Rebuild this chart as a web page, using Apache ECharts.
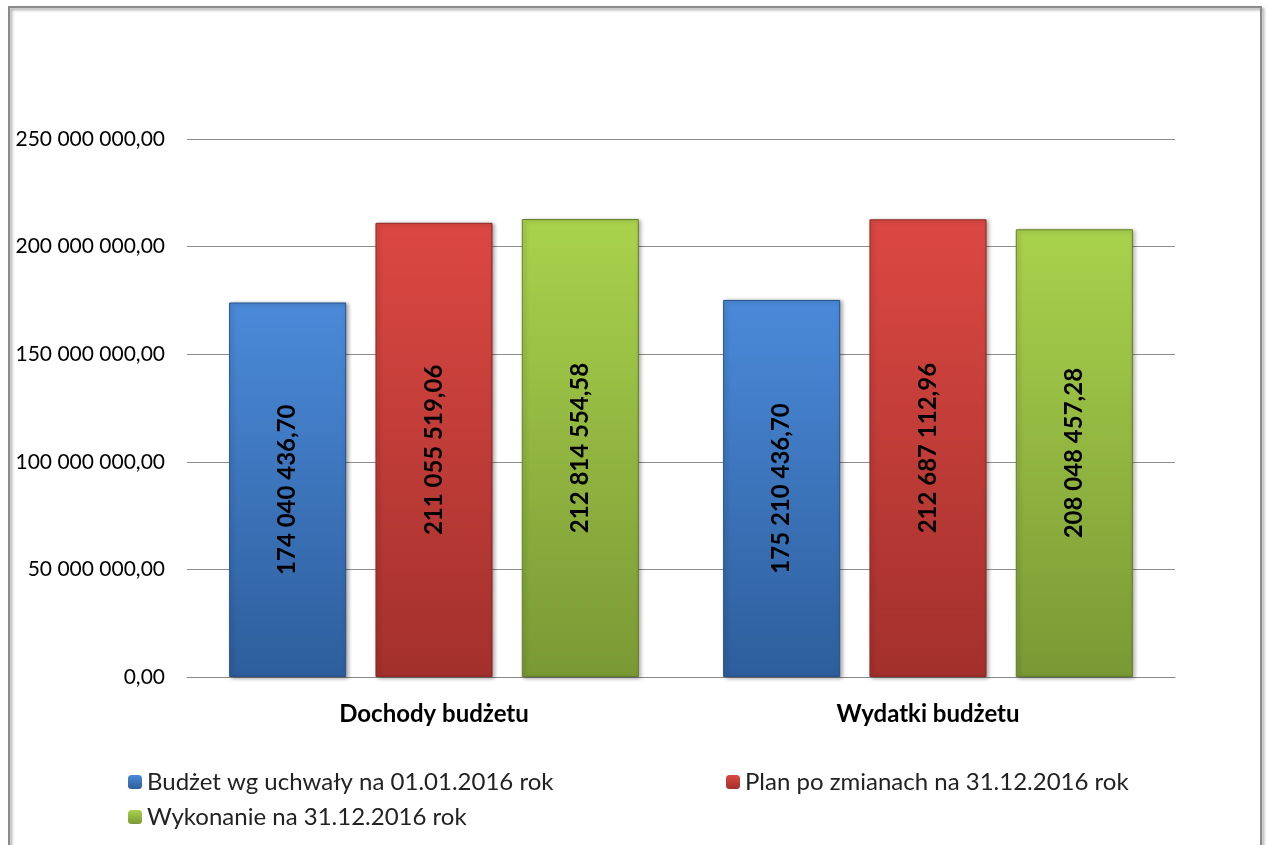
<!DOCTYPE html>
<html>
<head>
<meta charset="utf-8">
<script src="https://cdn.jsdelivr.net/npm/echarts@6/dist/echarts.min.js"></script>
<style>
  html, body { margin: 0; padding: 0; background: #fff; }
  #chart { width: 1267px; height: 845px; }
</style>
</head>
<body>
<div id="chart"></div>
<script>
// dane
var categories = ['Dochody budżetu', 'Wydatki budżetu'];
var seriesNames = [
  'Budżet wg uchwały na 01.01.2016 rok',
  'Plan po zmianach na 31.12.2016 rok',
  'Wykonanie na 31.12.2016 rok'
];
var budzet = [174040436.70, 175210436.70];
var plan = [211055519.06, 212687112.96];
var wykonanie = [212814554.58, 208048457.28];

// format: 174 040 436,70
function fmt (v) {
  var parts = v.toFixed(2).split('.');
  return parts[0].replace(/\B(?=(\d{3})+(?!\d))/g, ' ') + ',' + parts[1];
}

function grad (top, bottom) {
  return new echarts.graphic.LinearGradient(0, 0, 0, 1, [
    { offset: 0, color: top },
    { offset: 1, color: bottom }
  ]);
}

var font = 'Lato, "Open Sans", sans-serif';
var colors = [
  { top: '#4b8ad9', bottom: '#2d5e9c', border: '#26518a' },
  { top: '#dc4843', bottom: '#a3302c', border: '#8e2824' },
  { top: '#a9d24c', bottom: '#7a9935', border: '#65802a' }
];

function makeSeries (name, data, c) {
  return {
    name: name,
    type: 'bar',
    data: data,
    barWidth: '23.7%',
    barGap: '25%',
    itemStyle: {
      color: grad(c.top, c.bottom),
      borderColor: c.border,
      borderWidth: 1,
      shadowColor: 'rgba(0,0,0,0.35)',
      shadowBlur: 4,
      shadowOffsetX: 2,
      shadowOffsetY: 1
    },
    label: {
      show: true,
      position: 'inside',
      rotate: 90,
      formatter: function (p) { return fmt(p.value); },
      color: '#000',
      fontFamily: font,
      fontWeight: 'bold',
      fontSize: 24
    }
  };
}

var chart = echarts.init(document.getElementById('chart'));
chart.setOption({
  animation: false,
  color: [colors[0].top, colors[1].top, colors[2].top],
  graphic: [{
    type: 'rect',
    shape: { x: 9, y: 7, width: 1252, height: 860 },
    style: { fill: 'none', stroke: '#8a8a8a', lineWidth: 2, shadowColor: 'rgba(0,0,0,0.4)', shadowBlur: 3, shadowOffsetX: 2, shadowOffsetY: 2 },
    silent: true
  }],
  grid: { left: 187, right: 92, top: 139, bottom: 168 },
  legend: [{
    orient: 'vertical',
    left: 123,
    top: 765,
    itemGap: 11,
    itemWidth: 14,
    itemHeight: 14,
    itemStyle: { borderWidth: 0 },
    data: [seriesNames[0], seriesNames[2]],
    textStyle: { fontFamily: font, fontSize: 24, lineHeight: 24, color: '#222' }
  }, {
    orient: 'vertical',
    left: 721,
    top: 765,
    itemWidth: 14,
    itemHeight: 14,
    itemStyle: { borderWidth: 0 },
    data: [seriesNames[1]],
    textStyle: { fontFamily: font, fontSize: 24, lineHeight: 24, color: '#222' }
  }],
  xAxis: {
    type: 'category',
    data: categories,
    axisLine: { lineStyle: { color: '#888' } },
    axisTick: { show: false },
    axisLabel: { fontFamily: font, fontWeight: 'bold', fontSize: 24, color: '#000', margin: 25 }
  },
  yAxis: {
    type: 'value',
    min: 0,
    max: 250000000,
    interval: 50000000,
    axisLine: { show: false },
    axisTick: { show: false },
    splitLine: { lineStyle: { color: '#8c8c8c' } },
    axisLabel: {
      fontFamily: font,
      fontSize: 21,
      color: '#000',
      margin: 22,
      formatter: function (v) { return fmt(v); }
    }
  },
  series: [
    makeSeries(seriesNames[0], budzet, colors[0]),
    makeSeries(seriesNames[1], plan, colors[1]),
    makeSeries(seriesNames[2], wykonanie, colors[2])
  ]
});
</script>
</body>
</html>
